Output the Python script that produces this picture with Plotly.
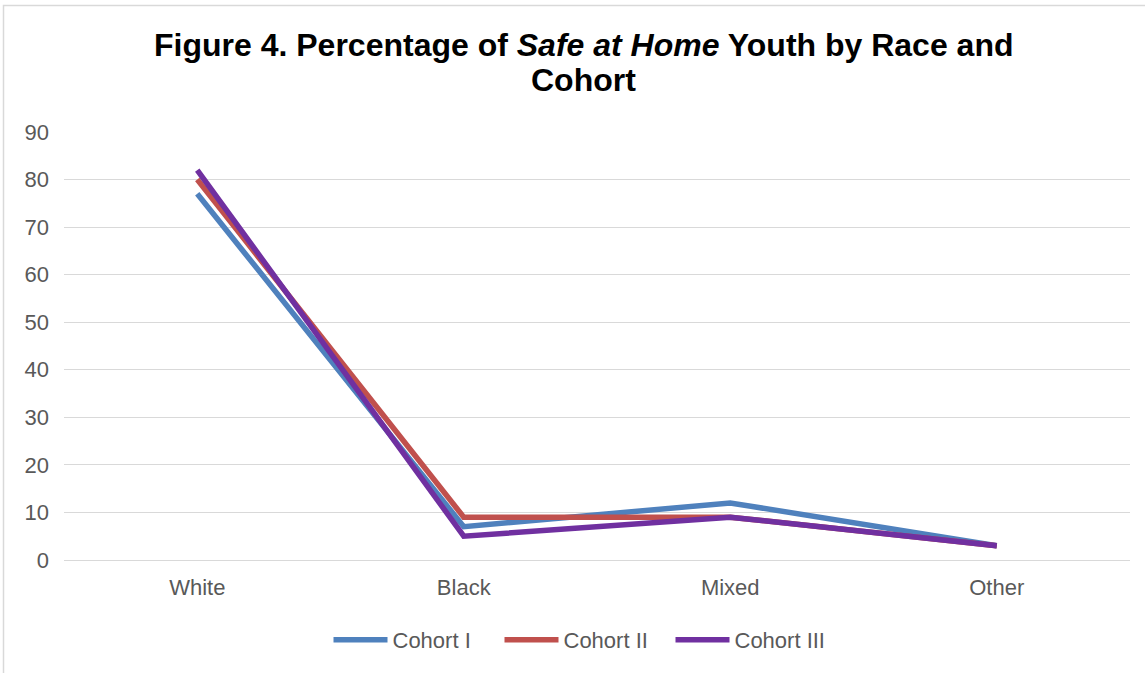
import plotly.graph_objects as go

categories = ["White", "Black", "Mixed", "Other"]
cohort_1 = [77, 7, 12, 3]
cohort_2 = [80, 9, 9, 3]
cohort_3 = [82, 5, 9, 3]
y_ticks = [0, 10, 20, 30, 40, 50, 60, 70, 80, 90]

series = [
    ("Cohort I", cohort_1, "#4F81BD"),
    ("Cohort II", cohort_2, "#C0504D"),
    ("Cohort III", cohort_3, "#7030A0"),
]

W, H = 1145, 673
L, R, T, B = 64, 15, 132, 113
pw, ph = W - L - R, H - T - B
FONT = "Liberation Sans, Arial, sans-serif"

fig = go.Figure()
for name, vals, color in series:
    fig.add_trace(go.Scatter(
        x=categories, y=vals, name=name, mode="lines",
        line=dict(color=color, width=5.5),
    ))

def px_x(p):
    return (p - L) / pw

def px_y(p):
    return (H - B - p) / ph

title_lines = [
    "<b>Figure 4. Percentage of <i>Safe at Home</i> Youth by Race and</b>",
    "<b>Cohort</b>",
]
title_y = [45, 80]

fig.update_layout(
    width=W, height=H,
    margin=dict(l=L, r=R, t=T, b=B),
    paper_bgcolor="white", plot_bgcolor="white",
    font=dict(family=FONT, size=22, color="#595959"),
    showlegend=True,
    legend=dict(
        orientation="h", x=px_x(585), xanchor="center",
        y=px_y(640), yanchor="middle",
        font=dict(size=22, color="#595959"),
        itemwidth=54, entrywidth=102, entrywidthmode="pixels",
        tracegroupgap=0,
    ),
    xaxis=dict(
        showgrid=False, showline=False, zeroline=False,
        ticks="", tickfont=dict(size=22, color="#595959"),
        ticklabelstandoff=12,
        range=[-0.5, 3.5],
    ),
    yaxis=dict(
        range=[0, 90], tickvals=y_ticks, showgrid=True,
        gridcolor="#D9D9D9", gridwidth=1.3, zeroline=True,
        zerolinecolor="#D9D9D9", zerolinewidth=1.3,
        showline=False, ticks="", ticklabelstandoff=14,
        tickfont=dict(size=22, color="#595959"),
    ),
    annotations=[
        dict(
            text=t, xref="paper", yref="paper", x=px_x(583), y=px_y(yy),
            xanchor="center", yanchor="middle", showarrow=False,
            font=dict(family=FONT, size=32, color="black"),
        )
        for t, yy in zip(title_lines, title_y)
    ],
    shapes=[dict(
        type="rect", xref="paper", yref="paper",
        x0=px_x(3.5), x1=px_x(W + 20), y0=px_y(5.5), y1=px_y(H + 20),
        line=dict(color="#D9D9D9", width=1.5), fillcolor="rgba(0,0,0,0)",
        layer="below",
    )],
)

fig.write_html("out.html")
